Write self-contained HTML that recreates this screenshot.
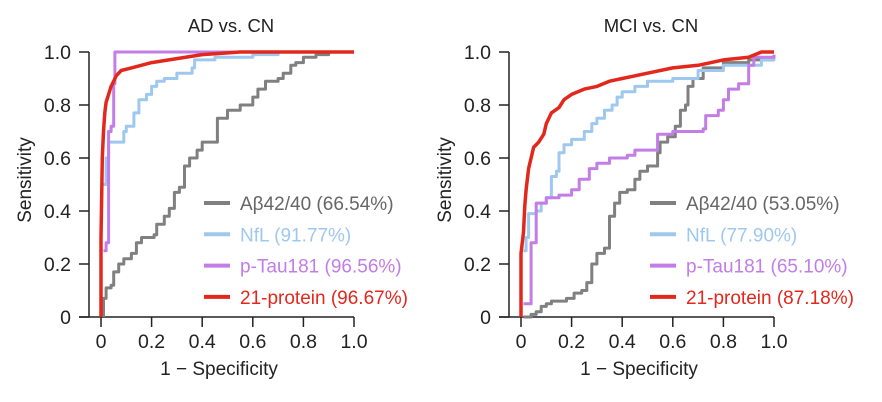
<!DOCTYPE html>
<html><head><meta charset="utf-8"><style>
html,body{margin:0;padding:0;background:#fff;}
svg{display:block;font-family:"Liberation Sans",sans-serif;}
</style></head><body>
<svg id="c" width="882" height="402" viewBox="0 0 882 402"></svg>
<script>
const tickVals=[0,0.2,0.4,0.6,0.8,1.0];
const tickLabels=["0","0.2","0.4","0.6","0.8","1.0"];
const panelTitles=["AD vs. CN","MCI vs. CN"];
const seriesNames=["Aβ42/40","NfL","p-Tau181","21-protein"];
const aucLeft=["66.54%","91.77%","96.56%","96.67%"];
const aucRight=["53.05%","77.90%","65.10%","87.18%"];
const adAbeta=[[0.01,0],[0.01,0.07],[0.02,0.11],[0.04,0.12],[0.05,0.17],[0.07,0.2],[0.09,0.22],[0.12,0.24],[0.14,0.28],[0.16,0.3],[0.21,0.31],[0.22,0.35],[0.25,0.38],[0.27,0.41],[0.29,0.47],[0.31,0.49],[0.33,0.57],[0.35,0.6],[0.38,0.63],[0.4,0.66],[0.45,0.66],[0.46,0.75],[0.5,0.78],[0.55,0.8],[0.6,0.83],[0.62,0.86],[0.65,0.89],[0.7,0.9],[0.72,0.92],[0.75,0.95],[0.77,0.96],[0.8,0.98],[0.85,0.99],[0.9,1],[1,1]];
const adNfl=[[0.01,0.5],[0.02,0.6],[0.03,0.66],[0.08,0.66],[0.09,0.7],[0.1,0.72],[0.13,0.77],[0.15,0.82],[0.18,0.84],[0.2,0.87],[0.22,0.89],[0.25,0.9],[0.3,0.92],[0.36,0.94],[0.37,0.97],[0.45,0.98],[0.6,0.99],[0.7,1],[1,1]];
const adTau=[[0.01,0.25],[0.02,0.28],[0.03,0.28],[0.03,0.7],[0.04,0.72],[0.05,0.76],[0.05,0.88],[0.055,1],[1,1]];
const adProt=[[0,0],[0,0.3],[0.005,0.6],[0.01,0.7],[0.015,0.77],[0.02,0.81],[0.03,0.84],[0.04,0.87],[0.05,0.89],[0.06,0.91],[0.08,0.93],[0.12,0.94],[0.2,0.96],[0.3,0.975],[0.4,0.99],[0.55,1],[1,1]];
const mciAbeta=[[0.01,0],[0.04,0.01],[0.06,0.02],[0.08,0.04],[0.1,0.05],[0.12,0.06],[0.18,0.07],[0.21,0.09],[0.24,0.1],[0.26,0.13],[0.28,0.2],[0.3,0.24],[0.33,0.26],[0.35,0.38],[0.37,0.43],[0.39,0.47],[0.42,0.48],[0.45,0.52],[0.47,0.55],[0.5,0.57],[0.54,0.62],[0.55,0.66],[0.58,0.68],[0.61,0.72],[0.63,0.78],[0.65,0.8],[0.66,0.87],[0.68,0.9],[0.72,0.94],[0.8,0.96],[0.9,0.97],[1,0.97]];
const mciNfl=[[0.01,0.25],[0.02,0.3],[0.03,0.39],[0.06,0.4],[0.08,0.43],[0.1,0.45],[0.12,0.53],[0.14,0.55],[0.15,0.62],[0.17,0.65],[0.2,0.67],[0.25,0.7],[0.28,0.73],[0.3,0.75],[0.33,0.78],[0.36,0.8],[0.38,0.83],[0.4,0.85],[0.45,0.87],[0.5,0.89],[0.6,0.9],[0.7,0.93],[0.8,0.95],[0.95,0.97],[1,0.98]];
const mciTau=[[0.01,0.05],[0.04,0.05],[0.04,0.28],[0.06,0.32],[0.06,0.43],[0.1,0.45],[0.15,0.46],[0.2,0.48],[0.23,0.52],[0.27,0.56],[0.3,0.58],[0.35,0.6],[0.42,0.61],[0.45,0.63],[0.54,0.64],[0.54,0.69],[0.6,0.7],[0.72,0.71],[0.73,0.76],[0.78,0.78],[0.8,0.82],[0.82,0.86],[0.86,0.88],[0.9,0.95],[0.92,0.98],[1,0.99]];
const mciProt=[[0,0],[0,0.24],[0.01,0.32],[0.015,0.42],[0.02,0.48],[0.03,0.56],[0.04,0.6],[0.05,0.64],[0.07,0.66],[0.09,0.69],[0.1,0.73],[0.12,0.77],[0.15,0.79],[0.17,0.82],[0.2,0.84],[0.25,0.86],[0.3,0.87],[0.35,0.89],[0.4,0.9],[0.5,0.92],[0.6,0.94],[0.7,0.95],[0.8,0.97],[0.9,0.98],[0.95,1],[1,1]];

const colors=["#808080","#9fc8ee","#c27de6","#e2281d"];
const widths=[3,3,3,3.5];
const NS="http://www.w3.org/2000/svg";
const svg=document.getElementById('c');
function mk(t,a,p){const e=document.createElementNS(NS,t);for(const k in a)e.setAttribute(k,a[k]);(p||svg).appendChild(e);return e;}

function panel(off,idx,series,aucs,legX){
  const g=mk('g',{});
  
  
  const X=v=>off+101+v*253, Y=v=>317-v*265;
  const t=mk('text',{x:off+231,y:32,'text-anchor':'middle','font-size':18.5,fill:'#222'},g);t.textContent=panelTitles[idx];
  
  
  const ya=mk('line',{x1:off+89,y1:Y(1),x2:off+89,y2:317,stroke:'#222','stroke-width':1.5},g);
  
  
  const xa=mk('line',{x1:off+79,y1:317,x2:X(1),y2:317,stroke:'#222','stroke-width':1.5},g);
  
  
  tickVals.forEach((v,i)=>{
    mk('line',{x1:off+79,y1:Y(v),x2:off+89,y2:Y(v),stroke:'#222','stroke-width':1.5},g);
    mk('line',{x1:X(v),y1:317,x2:X(v),y2:327,stroke:'#222','stroke-width':1.5},g);
    const yl=mk('text',{x:off+71,y:Y(v)+7,'text-anchor':'end','font-size':19.5,fill:'#222'},g);yl.textContent=tickLabels[i];
    
    
    const xl=mk('text',{x:X(v),y:348,'text-anchor':'middle','font-size':19.5,fill:'#222'},g);xl.textContent=tickLabels[i];
    
    
  });
  const xt=mk('text',{x:off+219,y:375,'text-anchor':'middle','font-size':19,fill:'#222'},g);xt.textContent="1 − Specificity";
  
  
  const yt=mk('text',{x:off+31,y:180,'text-anchor':'middle','font-size':19,fill:'#222',transform:`rotate(-90 ${off+31} 180)`},g);yt.textContent="Sensitivity";
  
  
  series.forEach((s,i)=>{
    const pts=[];
    s.forEach((d,j)=>{
      if(j>0 && i!==3){pts.push(X(d[0]).toFixed(1)+','+Y(s[j-1][1]).toFixed(1));}
      pts.push(X(d[0]).toFixed(1)+','+Y(d[1]).toFixed(1));
    });
    const p=mk('polyline',{points:pts.join(' '),fill:'none',stroke:colors[i],'stroke-width':widths[i],'stroke-linejoin':'round'},g);
    
    
  });
  seriesNames.forEach((n,i)=>{
    const yy=203+i*31.3;
    const l=mk('line',{x1:legX,y1:yy,x2:legX+26,y2:yy,stroke:colors[i],'stroke-width':4},g);
    
    
    const tx=mk('text',{x:legX+36,y:yy+7,'font-size':19,fill:i===0?'#666':colors[i]},g);tx.textContent=n+" ("+aucs[i]+")";
    
    
  });
}
panel(0,0,[adAbeta,adNfl,adTau,adProt],aucLeft,204);
panel(420,1,[mciAbeta,mciNfl,mciTau,mciProt],aucRight,650);
</script>
</body></html>
